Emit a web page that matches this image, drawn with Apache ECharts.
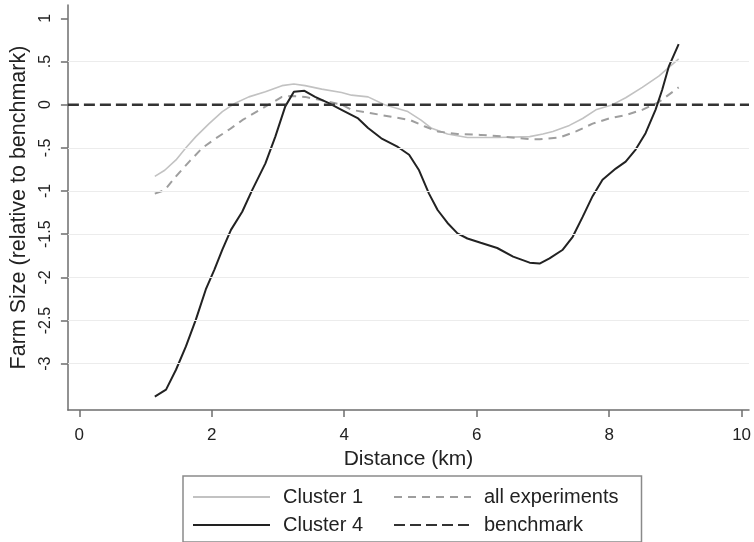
<!DOCTYPE html>
<html>
<head>
<meta charset="utf-8">
<script src="https://cdn.jsdelivr.net/npm/echarts@6/dist/echarts.min.js"></script>
<style>
html,body{margin:0;padding:0;background:#fff;}
#chart{width:754px;height:542px;}
</style>
</head>
<body>
<div id="chart"></div>
<script>
// ---- data ----
const xTicks = [0, 2, 4, 6, 8, 10];
const yTicks = [-3, -2.5, -2, -1.5, -1, -0.5, 0, 0.5, 1];
const gridVals = [-3, -2.5, -2, -1.5, -1, -0.5, 0.5];
const xMin = -0.172, xMax = 10.112, yMin = -3.536, yMax = 1.154;

const cluster1X = [1.14,1.29,1.46,1.61,1.76,1.96,2.16,2.36,2.56,2.81,3.06,3.24,3.41,3.66,3.96,4.11,4.36,4.61,4.96,5.16,5.31,5.56,5.86,6.31,6.80,7.0,7.15,7.40,7.60,7.80,8.05,8.25,8.50,8.75,9.05];
const cluster1Y = [-0.83,-0.76,-0.64,-0.50,-0.37,-0.22,-0.08,0.02,0.09,0.15,0.22,0.24,0.22,0.18,0.14,0.11,0.09,0.00,-0.08,-0.18,-0.27,-0.34,-0.38,-0.38,-0.37,-0.34,-0.31,-0.24,-0.16,-0.06,0.00,0.08,0.20,0.33,0.53];

const allX = [1.14,1.29,1.46,1.66,1.86,2.06,2.26,2.46,2.66,2.86,3.06,3.21,3.41,3.66,3.96,4.11,4.41,4.71,5.0,5.21,5.41,5.71,6.06,6.41,6.80,6.95,7.25,7.50,7.75,8.0,8.25,8.50,8.75,9.05];
const allY = [-1.03,-0.99,-0.83,-0.66,-0.50,-0.39,-0.29,-0.18,-0.09,0.00,0.09,0.10,0.09,0.05,0.00,-0.06,-0.10,-0.14,-0.18,-0.25,-0.31,-0.34,-0.35,-0.37,-0.40,-0.40,-0.38,-0.31,-0.22,-0.16,-0.12,-0.06,0.03,0.20];

const cluster4X = [1.14,1.31,1.46,1.61,1.76,1.91,2.04,2.16,2.29,2.46,2.61,2.81,2.96,3.11,3.24,3.40,3.56,3.76,3.96,4.21,4.36,4.56,4.81,4.98,5.13,5.28,5.41,5.56,5.71,5.86,6.06,6.31,6.55,6.80,6.95,7.10,7.30,7.45,7.60,7.75,7.90,8.10,8.25,8.40,8.55,8.70,8.80,8.90,9.05];
const cluster4Y = [-3.38,-3.30,-3.07,-2.80,-2.49,-2.14,-1.91,-1.68,-1.45,-1.24,-0.99,-0.68,-0.37,-0.02,0.15,0.16,0.09,0.02,-0.06,-0.16,-0.27,-0.39,-0.49,-0.58,-0.76,-1.03,-1.22,-1.37,-1.49,-1.55,-1.60,-1.66,-1.76,-1.83,-1.84,-1.78,-1.68,-1.53,-1.30,-1.06,-0.87,-0.74,-0.66,-0.52,-0.33,-0.06,0.17,0.44,0.70];

const benchX = [xMin, xMax];
const benchY = [0, 0];

const zip = (xs, ys) => xs.map((x, i) => [x, ys[i]]);
const FONT = "'Liberation Sans', Arial, sans-serif";
const fmtY = v => v === 0 ? '0' : String(v).replace(/^(-?)0\./, '$1.');

const chart = echarts.init(document.getElementById('chart'), null, {renderer: 'canvas'});
chart.setOption({
  animation: false,
  backgroundColor: '#fff',
  textStyle: {fontFamily: FONT},
  grid: {left: 63, right: 2, top: 5, bottom: 132},
  xAxis: {
    type: 'value', min: xMin, max: xMax,
    name: 'Distance (km)', nameLocation: 'middle', nameGap: 34,
    nameTextStyle: {fontSize: 21, color: '#222', fontFamily: FONT},
    axisLine: {show: true, onZero: false, lineStyle: {color: '#6e6e6e', width: 1.5}},
    axisTick: {show: true, length: 7, customValues: xTicks, lineStyle: {color: '#6e6e6e', width: 1.5}},
    axisLabel: {customValues: xTicks, margin: 17, fontSize: 17, color: '#222', fontFamily: FONT},
    splitLine: {show: false}
  },
  yAxis: {
    type: 'value', min: yMin, max: yMax,
    name: 'Farm Size (relative to benchmark)', nameLocation: 'middle', nameGap: 34,
    nameTextStyle: {fontSize: 21.5, color: '#222', fontFamily: FONT},
    axisLine: {show: true, onZero: false, lineStyle: {color: '#6e6e6e', width: 1.5}},
    axisTick: {show: true, length: 7, customValues: yTicks, lineStyle: {color: '#6e6e6e', width: 1.5}},
    axisLabel: {customValues: yTicks, rotate: 90, margin: 14, fontSize: 16, color: '#222', fontFamily: FONT, formatter: fmtY},
    splitLine: {show: false}
  },
  legend: {
    left: 183, top: 476,
    width: 440,
    orient: 'horizontal',
    padding: [7, 23, 3, 9],
    itemGap: 0,
    itemWidth: 77, itemHeight: 14,
    borderColor: '#8a8a8a', borderWidth: 1.5, borderRadius: 0,
    itemStyle: {opacity: 0, color: 'rgba(0,0,0,0)', borderWidth: 0},
    data: ['Cluster 1', 'all experiments', 'Cluster 4', 'benchmark'],
    textStyle: {fontSize: 20, color: '#222', fontFamily: FONT, width: 110, lineHeight: 28, padding: [0, 0, 0, 8]}
  },
  series: [
    {
      name: 'grid', type: 'line', data: [], silent: true, z: 1,
      markLine: {
        silent: true, symbol: 'none', label: {show: false},
        lineStyle: {color: '#ececec', width: 1.2, type: 'solid'},
        data: gridVals.map(v => ({yAxis: v}))
      }
    },
    {
      name: 'Cluster 1', type: 'line', symbol: 'none', z: 2,
      lineStyle: {color: '#c2c2c2', width: 1.6},
      itemStyle: {color: '#c2c2c2'},
      data: zip(cluster1X, cluster1Y)
    },
    {
      name: 'all experiments', type: 'line', symbol: 'none', z: 3,
      lineStyle: {color: '#9e9e9e', width: 2, type: [8, 6]},
      itemStyle: {color: '#9e9e9e'},
      data: zip(allX, allY)
    },
    {
      name: 'Cluster 4', type: 'line', symbol: 'none', z: 4,
      lineStyle: {color: '#222', width: 2},
      itemStyle: {color: '#222'},
      data: zip(cluster4X, cluster4Y)
    },
    {
      name: 'benchmark', type: 'line', symbol: 'none', z: 5,
      lineStyle: {color: '#333', width: 2.5, type: [11, 5]},
      itemStyle: {color: '#333'},
      data: zip(benchX, benchY)
    }
  ]
});
</script>
</body>
</html>
